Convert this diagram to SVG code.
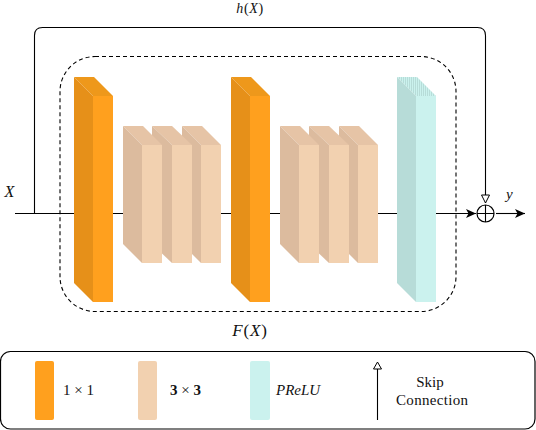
<svg xmlns="http://www.w3.org/2000/svg" width="536" height="430" viewBox="0 0 536 430">
<style>
text{font-family:"Liberation Serif","Times New Roman",serif;fill:#111;font-size:15px}
.i{font-style:italic}
.b{font-weight:bold}
.m{text-anchor:middle}
.line{fill:none;stroke:#000;stroke-width:1.1}
.or .f{fill:#ffa01e}.or .s{fill:#e69019}.or .t{fill:#ee981b}
.pe .f{fill:#f2d1b0}.pe .s{fill:#dcbb9e}.pe .t{fill:#e6c4a6}
.te .f{fill:#cbf2ee}.te .s{fill:#b7dcd8}.te .t{fill:url(#hatch)}
</style>
<defs>
<marker id="solid" markerUnits="userSpaceOnUse" markerWidth="12" markerHeight="10" refX="10" refY="5" orient="auto"><path d="M0 0.500L10 5L0 9.500L2.500 5Z" fill="#000"/></marker>
<marker id="hollow" markerUnits="userSpaceOnUse" markerWidth="12" markerHeight="12" refX="9" refY="5" orient="auto"><path d="M1 1L9 5L1 9Z" fill="#fff" stroke="#000" stroke-width="1"/></marker>
<pattern id="hatch" patternUnits="userSpaceOnUse" width="2" height="2"><rect width="2" height="2" fill="#cbf2ee"/><rect width="1" height="2" fill="#b7dcd8"/></pattern>
</defs>
<g id="connectors">
<path class="line" d="M15 213.500H476" marker-end="url(#solid)"/>
<path class="line" d="M34.500 213.500V35.500Q34.500 27.500 42.500 27.500H477.500Q485.500 27.500 485.500 35.500V203" marker-end="url(#hollow)"/>
<path class="line" d="M496 213.500H525" marker-end="url(#solid)"/>
</g>
<g id="residual-box"><rect x="60" y="56.500" width="396" height="255" rx="35" ry="35" fill="none" stroke="#000" stroke-width="1.100" stroke-dasharray="4 3"/></g>
<g id="conv1a" class="or" transform="translate(74 77)"><path class="t" d="M0 0H20L39 19H19Z"/><path class="s" d="M0 0L19 19V225L0 206Z"/><rect class="f" x="19" y="19" width="20" height="206"/></g>
<g id="conv3c" class="pe" transform="translate(182 126)"><path class="t" d="M0 0H20L39 19H19Z"/><path class="s" d="M0 0L19 19V137L0 118Z"/><rect class="f" x="19" y="19" width="20" height="118"/></g>
<g id="conv3b" class="pe" transform="translate(152 126)"><path class="t" d="M0 0H20L40 19H20Z"/><path class="s" d="M0 0L20 19V137L0 118Z"/><rect class="f" x="20" y="19" width="20" height="118"/></g>
<g id="conv3a" class="pe" transform="translate(123 126)"><path class="t" d="M0 0H20L39 19H19Z"/><path class="s" d="M0 0L19 19V137L0 118Z"/><rect class="f" x="19" y="19" width="20" height="118"/></g>
<g id="conv1b" class="or" transform="translate(231 77)"><path class="t" d="M0 0H20L39 19H19Z"/><path class="s" d="M0 0L19 19V225L0 206Z"/><rect class="f" x="19" y="19" width="20" height="206"/></g>
<g id="conv3f" class="pe" transform="translate(339 126)"><path class="t" d="M0 0H20L39 19H19Z"/><path class="s" d="M0 0L19 19V137L0 118Z"/><rect class="f" x="19" y="19" width="20" height="118"/></g>
<g id="conv3e" class="pe" transform="translate(309 126)"><path class="t" d="M0 0H20L40 19H20Z"/><path class="s" d="M0 0L20 19V137L0 118Z"/><rect class="f" x="20" y="19" width="20" height="118"/></g>
<g id="conv3d" class="pe" transform="translate(280 126)"><path class="t" d="M0 0H20L39 19H19Z"/><path class="s" d="M0 0L19 19V137L0 118Z"/><rect class="f" x="19" y="19" width="20" height="118"/></g>
<g id="prelu" class="te" transform="translate(397 77)"><path class="t" d="M0 0H20L39 19H19Z"/><path class="s" d="M0 0L19 19V225L0 206Z"/><rect class="f" x="19" y="19" width="20" height="206"/></g>
<g id="sum"><circle cx="485.500" cy="213.500" r="8.500" fill="#fff" stroke="#000" stroke-width="1.200"/><path class="line" d="M477 213.500H494M485.500 205V222"/></g>
<g id="labels">
<text class="i" x="4.500" y="197" style="font-size:16px">X</text>
<text class="m" x="250" y="12.500" style="font-size:14px;letter-spacing:.6px"><tspan class="i">h</tspan>(<tspan class="i">X</tspan>)</text>
<text class="i" x="506" y="199">y</text>
<text class="m" x="250" y="336" style="font-size:17px;letter-spacing:.8px"><tspan class="i">F</tspan>(<tspan class="i">X</tspan>)</text>
</g>
<g id="legend">
<rect x="0.500" y="351.500" width="534.500" height="77.500" rx="10" ry="10" fill="#fff" stroke="#000" stroke-width="1.200"/>
<rect x="35" y="361" width="19" height="59" rx="2" fill="#ffa01e"/>
<rect x="138" y="361" width="19" height="59" rx="2" fill="#f2d1b0"/>
<rect x="250" y="361" width="20" height="59" rx="2" fill="#cbf2ee"/>
<text x="63" y="395">1 × 1</text>
<text x="170" y="395"><tspan class="b">3</tspan> × <tspan class="b">3</tspan></text>
<text class="i" x="276" y="395">PReLU</text>
<path class="line" d="M377.500 420V369"/>
<path d="M377.500 362L381.500 369H373.500Z" fill="#fff" stroke="#000"/>
<text class="m" x="430" y="387">Skip</text>
<text class="m" x="432" y="405" textLength="72">Connection</text>
</g>
</svg>
